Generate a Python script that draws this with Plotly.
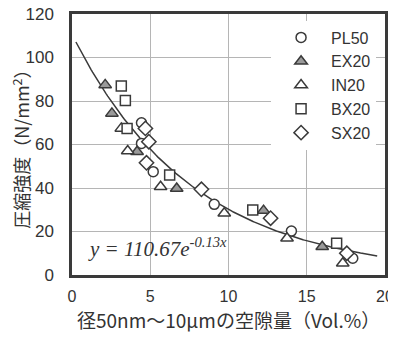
import numpy as np
import plotly.graph_objects as go

# Data
pl50_x = [4.44, 4.44, 5.19, 9.09, 14.02, 17.94]
pl50_y = [70.0, 60.5, 47.5, 32.5, 20.2, 7.7]
ex20_x = [2.12, 2.55, 4.16, 6.69, 12.24, 15.99]
ex20_y = [87.4, 74.3, 56.7, 39.8, 29.6, 13.0]
in20_x = [3.15, 3.56, 5.66, 9.73, 13.74, 17.30]
in20_y = [67.4, 57.0, 40.6, 28.4, 16.9, 5.4]
bx20_x = [3.15, 3.41, 3.52, 6.24, 11.55, 16.91]
bx20_y = [86.9, 80.2, 67.4, 46.0, 29.9, 14.6]
sx20_x = [4.69, 4.91, 4.76, 8.27, 12.69, 17.56]
sx20_y = [67.4, 61.3, 51.6, 39.4, 26.1, 10.0]

fit_a = 110.67
fit_b = -0.13
fit_range = [0.25, 19.5]

x_ticks = [0, 5, 10, 15, 20]
y_ticks = [0, 20, 40, 60, 80, 100, 120]

edge = "#3a3a3a"
fig = go.Figure()

fx = np.linspace(fit_range[0], fit_range[1], 200)
fig.add_trace(go.Scatter(x=fx, y=fit_a * np.exp(fit_b * fx), mode="lines",
                         line=dict(color=edge, width=1.5), showlegend=False,
                         hoverinfo="skip"))

series = [
    ("PL50", pl50_x, pl50_y, "circle", "white", 10),
    ("EX20", ex20_x, ex20_y, "triangle-up", "#9a9a9a", 11),
    ("IN20", in20_x, in20_y, "triangle-up", "white", 11),
    ("BX20", bx20_x, bx20_y, "square", "white", 10),
    ("SX20", sx20_x, sx20_y, "diamond", "white", 11),
]
for name, xs, ys, sym, fill, sz in series:
    fig.add_trace(go.Scatter(x=xs, y=ys, mode="markers", name=name,
                             marker=dict(symbol=sym, size=sz, color=fill,
                                         line=dict(color=edge, width=1.5))))

fig.add_annotation(x=0.9, y=12.5, xref="x", yref="y", xanchor="left", yanchor="middle",
                   text="y = 110.67e<sup>-0.13x</sup>", showarrow=False,
                   font=dict(family="Liberation Serif", size=21, color="#333", style="italic"))

# axis titles as annotations
fig.add_annotation(x=0.5, y=-0.17, xref="paper", yref="paper", xanchor="center",
                   yanchor="middle", showarrow=False, borderpad=0,
                   text="径50nm～10μmの空隙量（Vol.%）",
                   font=dict(family="Noto Sans CJK JP", size=19, color="#333"))
fig.add_annotation(x=-0.165, y=0.5, xref="paper", yref="paper", xanchor="center",
                   yanchor="middle", showarrow=False, textangle=-90,
                   text="圧縮強度（N/mm<sup>2</sup>）",
                   font=dict(family="Noto Sans CJK JP", size=18, color="#333"))

fig.update_layout(
    width=388, height=334,
    margin=dict(l=64, r=11, t=6, b=67, autoexpand=False),
    paper_bgcolor="white", plot_bgcolor="white",
    font=dict(family="Liberation Sans, Arial", color="#333"),
    legend=dict(x=0.636, y=0.975, xanchor="left", yanchor="top", bgcolor="white",
                font=dict(size=16, color="#333"), itemwidth=50,
                tracegroupgap=0),
    xaxis=dict(range=[0, 20], tickvals=x_ticks, showgrid=True, gridcolor="#b5b5b5",
               gridwidth=1, zeroline=False, showline=True, mirror=True,
               linecolor=edge, linewidth=2.5, ticks="", ticklabelstandoff=5,
               automargin=False, ticklabeloverflow="allow",
               tickfont=dict(size=16, color="#333")),
    yaxis=dict(range=[0, 120], tickvals=y_ticks, showgrid=True, gridcolor="#b5b5b5",
               gridwidth=1, zeroline=False, showline=True, mirror=True,
               linecolor=edge, linewidth=2.5, ticks="", ticklabelstandoff=12,
               automargin=False, ticklabeloverflow="allow",
               tickfont=dict(size=17, color="#333")),
)

fig.write_html("out.html")
